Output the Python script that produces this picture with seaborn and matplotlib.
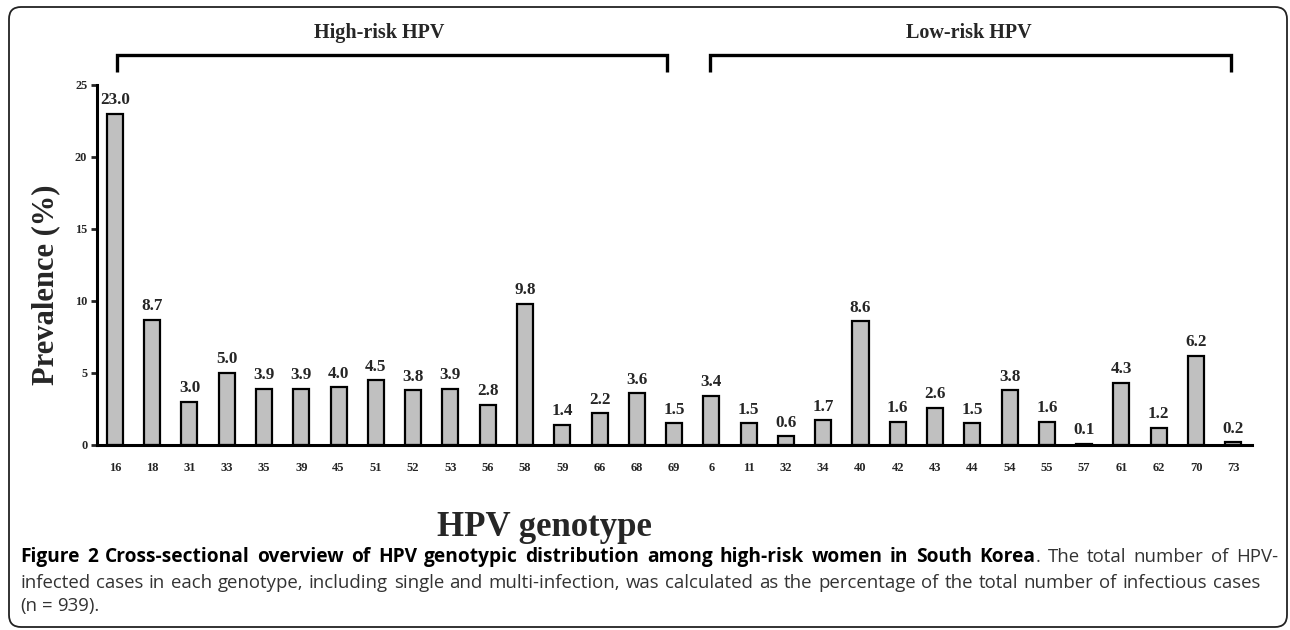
import numpy as np
import pandas as pd
import matplotlib
matplotlib.use("Agg")
import matplotlib.pyplot as plt
from matplotlib.patches import FancyBboxPatch
import seaborn as sns

# genotypes and prevalence (%)
high_risk = ["16", "18", "31", "33", "35", "39", "45", "51", "52", "53",
             "56", "58", "59", "66", "68", "69"]
high_vals = [23.0, 8.7, 3.0, 5.0, 3.9, 3.9, 4.0, 4.5, 3.8, 3.9,
             2.8, 9.8, 1.4, 2.2, 3.6, 1.5]
low_risk = ["6", "11", "32", "34", "40", "42", "43", "44", "54", "55",
            "57", "61", "62", "70", "73"]
low_vals = [3.4, 1.5, 0.6, 1.7, 8.6, 1.6, 2.6, 1.5, 3.8, 1.6,
            0.1, 4.3, 1.2, 6.2, 0.2]
y_ticks = [0, 5, 10, 15, 20, 25]

df = pd.DataFrame({
    "genotype": high_risk + low_risk,
    "prevalence": high_vals + low_vals,
    "group": ["High-risk HPV"] * len(high_risk) + ["Low-risk HPV"] * len(low_risk),
})

sns.set_style("white")
plt.rcParams["font.family"] = ["Liberation Serif", "DejaVu Serif"]
plt.rcParams["font.weight"] = "bold"

fig = plt.figure(figsize=(12.9, 6.3), dpi=100)
ax = fig.add_axes([0.0752, 0.2937, 0.8953, 0.5714])

sns.barplot(data=df, x="genotype", y="prevalence", order=df["genotype"],
            color="#c0c0c0", edgecolor="black", linewidth=1.6, width=0.43,
            saturation=1, ax=ax)

for cont in ax.containers:
    ax.bar_label(cont, fmt="%.1f", padding=4, fontsize=12.3, fontweight="bold")

ax.set_xlim(-0.48, len(df) - 0.5)
ax.set_ylim(0, 25)
ax.set_yticks(y_ticks)
ax.tick_params(axis="y", direction="out", length=4, width=2, pad=3,
               labelsize=8.8, left=True)
ax.tick_params(axis="x", length=0, pad=12, labelsize=9)
for lab in ax.get_xticklabels() + ax.get_yticklabels():
    lab.set_fontweight("bold")

for side in ["top", "right"]:
    ax.spines[side].set_visible(False)
for side in ["left", "bottom"]:
    ax.spines[side].set_linewidth(2.2)
    ax.spines[side].set_color("black")

ax.set_xlabel("")
ax.set_ylabel("Prevalence (%)", fontsize=22, fontweight="bold")
ax.yaxis.set_label_coords(-0.032, 0.444)
fig.text(544 / 1290, 1 - 527 / 630, "HPV genotype", fontsize=25,
         fontweight="bold", ha="center", va="center")

# group brackets above the bars
trans = ax.get_xaxis_transform()
n_high = len(high_risk)
groups = [("High-risk HPV", 0.05, n_high - 1 - 0.2, 7.1),
          ("Low-risk HPV", n_high - 0.05, len(df) - 1 - 0.05, 22.9)]
for name, x0, x1, xc in groups:
    ax.plot([x0, x0, x1, x1], [1.036, 1.083, 1.083, 1.036], color="black",
            lw=2.4, transform=trans, clip_on=False, solid_capstyle="butt",
            solid_joinstyle="miter")
    ax.text(xc, 1.144, name, transform=trans, ha="center", va="center",
            fontsize=14.5, fontweight="bold")

# rounded frame around the whole figure
frame = FancyBboxPatch((9, 3), 1278, 620, boxstyle="round,pad=0,rounding_size=12",
                       transform=None, fill=False, edgecolor="#222222", lw=1.3)
fig.patches.append(frame)

# caption, first two lines justified like the journal layout
cap_font = ["Open Sans", "DejaVu Sans"]
size_bold = 13.8
size_reg = 13.4
renderer = fig.canvas.get_renderer()
W = fig.bbox.width
H = fig.bbox.height


def part_text(x, y, txt, weight, col):
    size = size_bold if weight == "bold" else size_reg
    return fig.text(x, y, txt, family=cap_font, fontsize=size,
                    fontweight=weight, color=col, va="center")


def word_width(parts):
    w = 0
    for txt, weight, col in parts:
        t = part_text(0, 0, txt, weight, col)
        w += t.get_window_extent(renderer).width
        t.remove()
    return w


def draw_line(words, y_px, left_px, right_px=None):
    widths = [word_width(p) for p in words]
    if right_px is None or len(words) < 2:
        gap = word_width([(" ", "normal", "k")])
    else:
        gap = (right_px - left_px - sum(widths)) / (len(words) - 1)
    x = left_px
    for parts, w in zip(words, widths):
        xx = x
        for txt, weight, col in parts:
            t = part_text(xx / W, 1 - y_px / H, txt, weight, col)
            xx += t.get_window_extent(renderer).width
        x += w + gap


bold_txt = ("Figure 2 Cross-sectional overview of HPV genotypic distribution "
            "among high-risk women in South Korea")
reg1 = "The total number of HPV-"
reg2 = ("infected cases in each genotype, including single and multi-infection, "
        "was calculated as the percentage of the total number of infectious cases")
grey = "#333333"

line1 = [[(w, "bold", "black")] for w in bold_txt.split()]
line1[-1].append((".", "normal", grey))
line1 += [[(w, "normal", grey)] for w in reg1.split()]
line2 = [[(w, "normal", grey)] for w in reg2.split()]
line3 = [[(w, "normal", grey)] for w in "(n = 939).".split()]

draw_line(line1, 557, 20, 1278)
draw_line(line2, 583, 20, 1260)
draw_line(line3, 606, 20)

fig.savefig("out.png", dpi=100)
